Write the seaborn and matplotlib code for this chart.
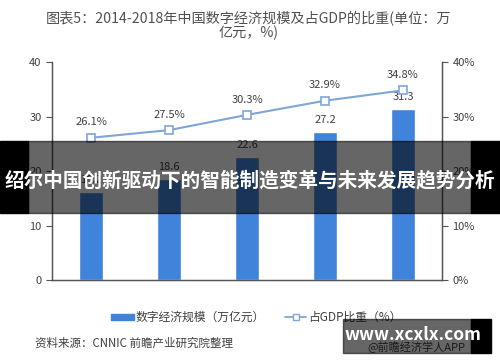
import numpy as np
import pandas as pd
import seaborn as sns
import matplotlib.pyplot as plt
from matplotlib.patches import Rectangle

# data
years = ['2014年', '2015年', '2016年', '2017年', '2018年']
scale = [16.2, 18.6, 22.6, 27.2, 31.3]      # 数字经济规模（万亿元）
share = [26.1, 27.5, 30.3, 32.9, 34.8]      # 占GDP比重（%）
left_ticks = [0, 10, 20, 30, 40]
right_ticks = [0, 10, 20, 30, 40]

sns.set_style('white')
plt.rcParams['font.family'] = ['Noto Sans CJK SC', 'DejaVu Sans']

df = pd.DataFrame({'year': years, 'scale': scale, 'share': share})
df['pos'] = np.arange(len(df))

bar_color = '#3f83db'
line_color = '#7fa6d6'
text_color = '#404040'

fig = plt.figure(figsize=(5, 3.62), dpi=100)
ax = fig.add_axes([0.104, 0.2265, 0.78, 0.6022])

# bars
sns.barplot(data=df, x='year', y='scale', color=bar_color, width=0.31,
            saturation=1, ax=ax, zorder=2)
ax.set_ylim(0, 40)
ax.set_xlim(-0.5, 4.5)
ax.set_yticks(left_ticks)
ax.set_xlabel('')
ax.set_ylabel('')
for i, v in enumerate(scale):
    ax.text(i, v + 1.3, f'{v:.1f}', ha='center', va='bottom', fontsize=8, color=text_color)

# line on right axis
ax2 = ax.twinx()
sns.lineplot(data=df, x='pos', y='share', color=line_color, lw=1.5, marker='s',
             markersize=6, markerfacecolor='white', markeredgecolor=line_color,
             markeredgewidth=1.2, ax=ax2, zorder=3)
ax2.set_ylim(0, 40)
ax2.set_xlim(-0.5, 4.5)
ax2.set_yticks(right_ticks)
ax2.set_yticklabels([f'{t}%' for t in right_ticks])
ax2.set_ylabel('')
ax2.set_xlabel('')
for i, v in enumerate(share):
    ax2.text(i, v + 1.9, f'{v:.1f}%', ha='center', va='bottom', fontsize=8, color=text_color)

# spines / ticks
for a in (ax, ax2):
    a.spines['top'].set_visible(False)
    for s in ['left', 'right', 'bottom']:
        a.spines[s].set_color('#555555')
        a.spines[s].set_linewidth(0.9)
    a.tick_params(axis='y', labelsize=8, colors=text_color, length=4, width=0.8,
                  direction='out')
ax.tick_params(axis='y', left=True, color='#555555')
ax2.tick_params(axis='y', right=True, color='#555555')
ax.set_xticks(np.arange(5))
ax.set_xticklabels(years)
ax.tick_params(axis='x', labelsize=8, colors=text_color, length=0, pad=8)
ax.set_xticks(np.arange(-0.5, 5, 1), minor=True)
ax.tick_params(axis='x', which='minor', length=4, width=0.8, color='#555555', direction='out')
ax2.set_xticks([])

# title
fig.text(0.497, 1 - 19 / 362, '图表5：2014-2018年中国数字经济规模及占GDP的比重(单位：万',
         ha='center', va='center', fontsize=10.2, color='#505050')
fig.text(0.497, 1 - 33 / 362, '亿元，%)', ha='center', va='center', fontsize=10.2, color='#505050')

# legend
leg_y = 1 - 317 / 362
fig.patches.append(Rectangle((0.222, leg_y - 0.008), 0.046, 0.016, transform=fig.transFigure,
                             color=bar_color))
fig.text(0.271, leg_y, '数字经济规模（万亿元）', ha='left', va='center', fontsize=8.5, color=text_color)
fig.lines.append(plt.Line2D([0.57, 0.591, 0.612], [leg_y, leg_y, leg_y],
                            transform=fig.transFigure, color=line_color, lw=1.3,
                            marker='s', markersize=5, markevery=[1],
                            markerfacecolor='white'))
fig.text(0.616, leg_y, '占GDP比重（%）', ha='left', va='center', fontsize=8.5, color=text_color)

# source
fig.text(0.07, 0.052, '资料来源：CNNIC 前瞻产业研究院整理', ha='left', va='center',
         fontsize=8.3, color=text_color)
fig.text(0.734, 1 - 347 / 362, '@前瞻经济学人APP', ha='left', va='center',
         fontsize=8, color=text_color)

# overlay banner
by0, by1 = 1 - 213 / 362, 1 - 141 / 362
fig.patches.append(Rectangle((0, by0), 28 / 500, by1 - by0, transform=fig.transFigure,
                             color='black', zorder=10))
fig.patches.append(Rectangle((471 / 500, by0), 29 / 500, by1 - by0, transform=fig.transFigure,
                             color='black', zorder=10))
fig.patches.append(Rectangle((28 / 500, by0), 443 / 500, by1 - by0, transform=fig.transFigure,
                             color='black', alpha=0.6, zorder=10))
fig.text(0.5, 1 - 181 / 362, '绍尔中国创新驱动下的智能制造变革与未来发展趋势分析',
         ha='center', va='center', fontsize=14.1, fontweight='bold', color='white', zorder=11)

# watermark box
wy0, wy1 = 1 - 353 / 362, 1 - 319 / 362
fig.patches.append(Rectangle((343 / 500, wy0), 128 / 500, wy1 - wy0, transform=fig.transFigure,
                             color='black', alpha=0.6, zorder=10))
fig.patches.append(Rectangle((471 / 500, wy0), 20 / 500, wy1 - wy0, transform=fig.transFigure,
                             color='black', zorder=10))
fig.text(413 / 500, 1 - 335 / 362, 'www.xcxlx.com', ha='center', va='center',
         fontsize=12.5, fontweight='bold', color='white', zorder=11)

fig.savefig('out.png', dpi=100)
